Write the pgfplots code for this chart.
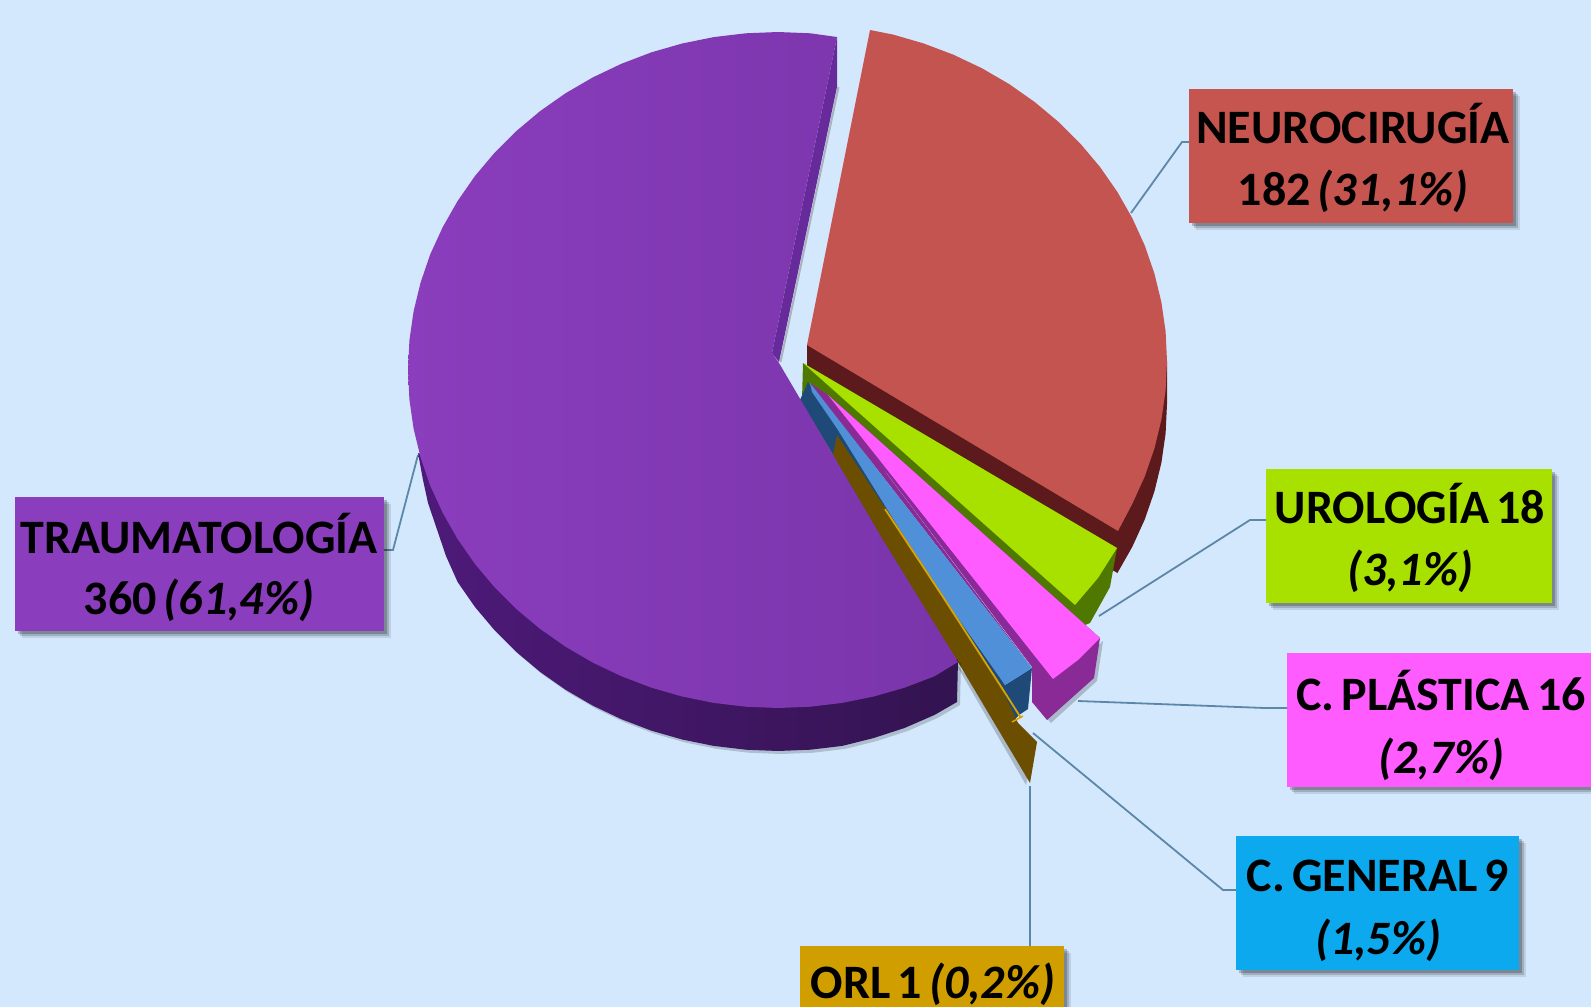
\documentclass[border=0pt]{standalone}
\usepackage{pgfplots}
\usepackage{fontspec}
\setmainfont{Carlito}
\pgfplotsset{compat=1.18}
\definecolor{bgc}{HTML}{D4E8FD}
\definecolor{purpL}{HTML}{8A3DBC}
\definecolor{purpR}{HTML}{7A35AB}
\definecolor{purpSL}{HTML}{4E1A7A}
\definecolor{purpSR}{HTML}{331350}
\definecolor{purpB}{HTML}{662A9A}
\definecolor{redT}{HTML}{C35450}
\definecolor{redS}{HTML}{5C1A1C}
\definecolor{grnT}{HTML}{A8E000}
\definecolor{grnS}{HTML}{4F7800}
\definecolor{pnkT}{HTML}{FF5CFF}
\definecolor{pnkS}{HTML}{8A2A96}
\definecolor{bluT}{HTML}{4F90D8}
\definecolor{bluS}{HTML}{1F4A78}
\definecolor{brnS}{HTML}{6B4E00}
\definecolor{yelT}{HTML}{D9A400}
\definecolor{lead}{HTML}{5B87A8}
\definecolor{lbP}{HTML}{8A3DBC}
\definecolor{lbR}{HTML}{C6544F}
\definecolor{lbB}{HTML}{0DA9EE}
\definecolor{lbO}{HTML}{D19E00}
\newcommand{\lab}[1]{\fontsize{48}{48}\selectfont\bfseries\spaceskip=.15em #1}
\newcommand{\labelbox}[5]{%
  \addplot[fill=black,opacity=.10,draw=none,xshift=7pt,yshift=-7pt] coordinates {(#1,#2)(#3,#2)(#3,#4)(#1,#4)};
  \addplot[fill=black,opacity=.16,draw=none,xshift=5pt,yshift=-5pt] coordinates {(#1,#2)(#3,#2)(#3,#4)(#1,#4)};
  \addplot[fill=black,opacity=.22,draw=none,xshift=3pt,yshift=-3pt] coordinates {(#1,#2)(#3,#2)(#3,#4)(#1,#4)};
  \addplot[fill=#5,draw=none] coordinates {(#1,#2)(#3,#2)(#3,#4)(#1,#4)};
}
\begin{document}
\begin{tikzpicture}
\begin{axis}[width=1591pt,height=1007pt,scale only axis,hide axis,
  xmin=0,xmax=1591,ymin=0,ymax=1007,y dir=reverse,clip=true]
% background
\addplot[fill=bgc,draw=none] coordinates {(0,0)(1591,0)(1591,1007)(0,1007)};
% leader lines
\addplot[lead,line width=1.8pt] coordinates {(1131,213)(1182,142)(1189,142)};
\addplot[lead,line width=1.8pt] coordinates {(384,550)(393,550)(418,455)};
\addplot[lead,line width=1.8pt] coordinates {(1099,616)(1250,520)(1266,520)};
\addplot[lead,line width=1.8pt] coordinates {(1078,701)(1265,708)(1287,708)};
\addplot[lead,line width=1.8pt] coordinates {(1033,733)(1223,890)(1236,890)};
\addplot[lead,line width=1.8pt] coordinates {(1030,786)(1030,946)};
% red wall
\addplot[fill=redS,draw=none] coordinates {(1167,361)(1167,404)(1165.6,433.5)(1161.4,462.7)(1154.4,491.5)(1144.7,519.6)(1132.3,546.8)(1117.4,573)(807,388)(807,345)};
% red top
\addplot[fill=redT,draw=none] coordinates {(807,345)(870,30)(892.8,34.5)(923.5,43.4)(953.4,54.7)(982,68.3)(1009.2,84.1)(1034.8,102.1)(1058.6,122)(1080.4,143.7)(1100.1,167.1)(1117.4,192)(1132.3,218.2)(1144.7,245.4)(1154.4,273.5)(1161.4,302.3)(1165.6,331.5)(1167,361)(1165.6,390.5)(1161.4,419.7)(1154.4,448.5)(1144.7,476.6)(1132.3,503.8)(1118,531)};
% green
\addplot[fill=grnS,draw=none] coordinates {(803,363)(1117,548)(1110,587)(1090,623)(1078,628)(1000,570)(802,400)};
\addplot[fill=grnT,draw=none] coordinates {(803,363)(1117,548)(1098,578)(1075,605)};
% blue wall (inner and end) and filler
\addplot[fill=bluS,draw=none] coordinates {(808,382)(838,430)(905,530)(1005,685)(1019,715)(1010,715)(958,662)(833,455)(800,400)};
\addplot[fill=bluS,draw=none] coordinates {(995,690)(1005,685)(1032,668)(1028,709)(1019,715)(1012,722)};
\addplot[fill=pnkS,draw=none] coordinates {(810,383)(828,395)(1032,668)};
\addplot[fill=bluT,draw=none] coordinates {(810,383)(1032,668)(1005,685)(943,597)(905,538)(838,430)(812,392)};
% pink
\addplot[fill=black,opacity=.2,draw=none,xshift=3pt,yshift=-3pt] coordinates {(1100,638)(1094,678)(1048,720)(1032,702)};
\addplot[fill=pnkS,draw=none] coordinates {(828,395)(1100,638)(1094,678)(1047,720)(1032,702)(1032,667)};
\addplot[fill=pnkT,draw=none] coordinates {(828,395)(1100,638)(1078,660)(1053,679)};
% brown
\addplot[fill=black,opacity=.2,draw=none,xshift=-2pt,yshift=-2pt] coordinates {(958,662)(1018,723)(1037,742)(1028,783)};
\addplot[fill=brnS,draw=none] coordinates {(837,435)(905,538)(943,597)(1000,685)(1018,723)(1037,742)(1030,783)(958,662)(883,545)(833,455)};
\addplot[yelT,line width=1.8pt] coordinates {(885,509)(943,597)(1000,685)(1021,718)};
\addplot[yelT,line width=1.5pt] coordinates {(1012,722)(1023,716)};
% purple soft shadow
\addplot[fill=black,opacity=.18,draw=none,xshift=3pt,yshift=-3pt] coordinates {(418,453)(423,480)(428,503)(446,556)(457.6,582)(474.9,606.9)(494.6,630.3)(516.4,652)(540.1,671.9)(565.8,689.9)(593,705.7)(621.6,719.3)(651.5,730.7)(682.2,739.5)(713.7,745.9)(745.7,749.7)(778,751)(810.3,749.7)(842.3,745.9)(873.8,738)(904.5,728)(934.4,715)(957,702)(958,660)};
% purple wall
\addplot[left color=purpSL,right color=purpSR,draw=none] coordinates {(418,453)(423,480)(428,503)(446,556)(457.6,582)(474.9,606.9)(494.6,630.3)(516.4,652)(540.1,671.9)(565.8,689.9)(593,705.7)(621.6,719.3)(651.5,730.7)(682.2,739.5)(713.7,745.9)(745.7,749.7)(778,751)(810.3,749.7)(842.3,745.9)(873.8,738)(904.5,728)(934.4,715)(957,702)(958,660)};
% purple back strip
\addplot[gray,opacity=.5,line width=2pt,xshift=1.5pt] coordinates {(837,87)(779,362)};
\addplot[fill=purpB,draw=none] coordinates {(837,37)(837,87)(779,362)(772,353)};
% purple top
\addplot[left color=purpL,right color=purpR,draw=none] coordinates {(772,353)(837,37)(810.3,33.3)(778,32)(745.7,33.3)(713.7,37.1)(682.2,43.5)(651.5,52.3)(621.6,63.7)(593,77.3)(565.8,93.1)(540.1,111.1)(516.4,131)(494.6,152.7)(474.9,176.1)(457.6,201)(442.7,227.2)(430.2,254.4)(420.6,282.5)(413.6,311.3)(409.4,340.5)(408,370)(409.4,399.5)(413.6,428.7)(420.6,457.5)(430.2,485.6)(442.7,512.8)(457.6,539)(474.9,563.9)(494.6,587.3)(516.4,609)(540.1,628.9)(565.8,646.9)(593,662.7)(621.6,676.3)(651.5,687.7)(682.2,696.5)(713.7,702.9)(745.7,706.7)(778,708)(810.3,706.7)(842.3,702.9)(873.8,696.5)(904.5,687.7)(934.4,676.3)(958,662)(883,540)(779,363)};
% label boxes
\labelbox{1189}{89}{1513}{223}{lbR}
\labelbox{15}{497}{384}{631}{lbP}
\labelbox{1266}{469}{1552}{603}{grnT}
\labelbox{1287}{653}{1591}{787}{pnkT}
\labelbox{1236}{836}{1519}{970}{lbB}
\labelbox{800}{946}{1064}{1011}{lbO}
% label text
\node[anchor=base,inner sep=0pt] at (axis cs:1353,143) {\lab{NEUROCIRUGÍA}};
\node[anchor=base,inner sep=0pt] at (axis cs:1353,205) {\lab{182 \textit{(31,1\%)}}};
\node[anchor=base,inner sep=0pt] at (axis cs:199,553) {\lab{TRAUMATOLOGÍA}};
\node[anchor=base,inner sep=0pt] at (axis cs:199,614) {\lab{360 \textit{(61,4\%)}}};
\node[anchor=base,inner sep=0pt] at (axis cs:1410,523) {\lab{UROLOGÍA 18}};
\node[anchor=base,inner sep=0pt] at (axis cs:1410,585) {\lab{\textit{(3,1\%)}}};
\node[anchor=base,inner sep=0pt] at (axis cs:1441,710) {\lab{C. PLÁSTICA 16}};
\node[anchor=base,inner sep=0pt] at (axis cs:1441,773) {\lab{\textit{(2,7\%)}}};
\node[anchor=base,inner sep=0pt] at (axis cs:1378,891) {\lab{C. GENERAL 9}};
\node[anchor=base,inner sep=0pt] at (axis cs:1378,954) {\lab{\textit{(1,5\%)}}};
\node[anchor=base,inner sep=0pt] at (axis cs:933,998) {\lab{ORL 1 \textit{(0,2\%)}}};
\end{axis}
\end{tikzpicture}
\end{document}
